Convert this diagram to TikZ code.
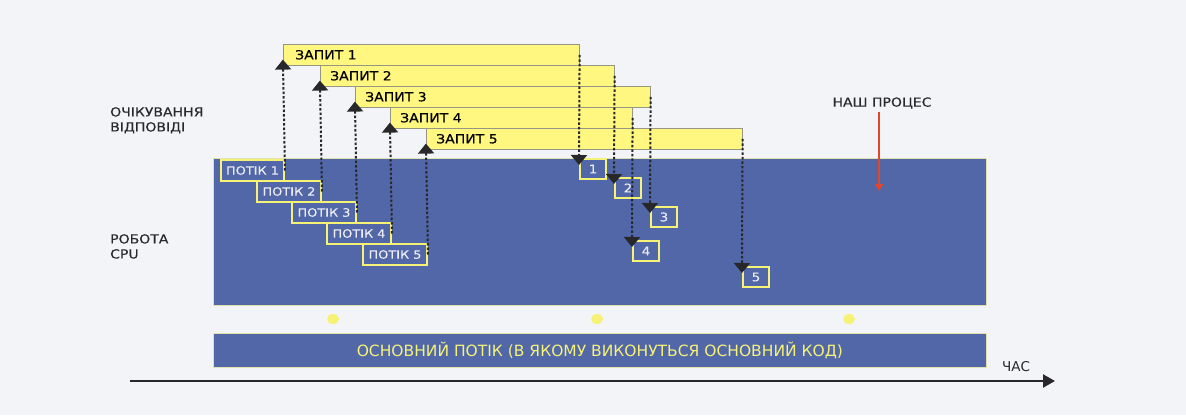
\documentclass[tikz,border=0pt]{standalone}
\usepackage{fontspec}
\setmainfont{DejaVu Sans}[FakeStretch=1.12,FakeBold=0.25]
\newfontfamily\plainfont{DejaVu Sans}
\usetikzlibrary{arrows.meta}
\definecolor{bg}{RGB}{243,244,248}
\definecolor{cpublue}{RGB}{81,103,168}
\definecolor{baryel}{RGB}{255,247,128}
\definecolor{boxyel}{RGB}{246,242,118}
\definecolor{bargray}{RGB}{150,150,130}
\definecolor{dark}{RGB}{40,40,42}
\definecolor{lighttxt}{RGB}{236,236,242}
\definecolor{redarr}{RGB}{226,70,45}
\definecolor{rim}{RGB}{225,225,175}
\tikzset{
  lbl/.style={inner sep=0pt, text=dark, font=\fontsize{12.5}{15}\selectfont},
  bluerect/.style={fill=cpublue, draw=rim, line width=0.8pt, inner sep=0pt, anchor=north west},
  reqbar/.style={fill=baryel, draw=bargray, line width=0.6pt, inner sep=0pt, anchor=north west, minimum height=21pt},
  reqtxt/.style={inner sep=0pt, anchor=west, text=black, font=\fontsize{12.5}{14}\selectfont},
  thrbox/.style={fill=cpublue, draw=boxyel, line width=2pt, inner sep=0pt, anchor=north west, minimum width=63pt, minimum height=21pt, text=lighttxt, font=\fontsize{11.5}{12}\selectfont},
  numbox/.style={fill=cpublue, draw=boxyel, line width=2pt, inner sep=0pt, anchor=north west, minimum width=26pt, minimum height=20pt, text=lighttxt, font=\fontsize{12}{12}\selectfont},
  dotline/.style={draw=dark, line width=2pt, dash pattern=on 2.5pt off 2pt},
  uptip/.style={dotline, -{Triangle[width=16pt,length=10pt]}, shorten >=-6pt},
  dntip/.style={dotline, -{Triangle[width=16pt,length=10pt]}, shorten >=-7pt},
  ydot/.style={fill=boxyel},
}
\begin{document}
\begin{tikzpicture}[x=1pt,y=-1pt]
\fill[bg] (0,0) rectangle (1186,415);
\useasboundingbox (0,0) rectangle (1186,415);

% left labels
\node[lbl, anchor=north west, align=left] (wait) at (110,107) {ОЧІКУВАННЯ\\ВІДПОВІДІ};
\node[lbl, anchor=north west, align=left] (cpu) at (110,234) {РОБОТА\\CPU};

% CPU area
\node[bluerect, minimum width=773pt, minimum height=147pt] (cpuarea) at (213,158) {};

% threads
\node[thrbox] (p1) at (220,159) {ПОТІК 1};
\node[thrbox, minimum width=64pt] (p2) at (256,180) {ПОТІК 2};
\node[thrbox, minimum width=64pt] (p3) at (291,201) {ПОТІК 3};
\node[thrbox, minimum width=64pt] (p4) at (326,222) {ПОТІК 4};
\node[thrbox, minimum width=64pt] (p5) at (362,243) {ПОТІК 5};

% request bars
\node[reqbar, minimum width=296pt] (bar1) at (283,44) {};
\node[reqbar, minimum width=294pt] (bar2) at (320,65) {};
\node[reqbar, minimum width=295pt] (bar3) at (355,86) {};
\node[reqbar, minimum width=242pt] (bar4) at (390,107) {};
\node[reqbar, minimum width=316pt] (bar5) at (426,128) {};
\node[reqtxt] (r1) at ([xshift=12pt]bar1.west) {ЗАПИТ 1};
\node[reqtxt] (r2) at ([xshift=10pt]bar2.west) {ЗАПИТ 2};
\node[reqtxt] (r3) at ([xshift=10pt]bar3.west) {ЗАПИТ 3};
\node[reqtxt] (r4) at ([xshift=10pt]bar4.west) {ЗАПИТ 4};
\node[reqtxt] (r5) at ([xshift=10pt]bar5.west) {ЗАПИТ 5};

% result boxes
\node[numbox] (n1) at (579,158) {1};
\node[numbox] (n2) at (614,177) {2};
\node[numbox] (n3) at (650,206) {3};
\node[numbox] (n4) at (632,240) {4};
\node[numbox] (n5) at (742,266) {5};

% up arrows (thread -> request)
\draw[uptip] (p1.east) -- (bar1.south west);
\draw[uptip] (p2.east) -- (bar2.south west);
\draw[uptip] (p3.east) -- (bar3.south west);
\draw[uptip] (p4.east) -- (bar4.south west);
\draw[uptip] (p5.east) -- (bar5.south west);

% down arrows (request -> result)
\draw[dntip] (bar1.east) -- (n1.north west);
\draw[dntip] (bar2.east) -- (n2.north west);
\draw[dntip] (bar3.east) -- (n3.north west);
\draw[dntip] (bar4.east) -- (n4.north west);
\draw[dntip] (bar5.east) -- (n5.north west);

% our process
\node[lbl] (proc) at (882,103) {НАШ ПРОЦЕС};
\coordinate (procpt) at (879,191);
\draw[redarr, line width=1.4pt, -{Triangle[width=8pt,length=7pt]}] (proc.south -| procpt) ++(0,3) -- (procpt);

% yellow dots
\fill[ydot] (333,319) ellipse (6pt and 5pt);
\fill[ydot] (597,319) ellipse (6pt and 5pt);
\fill[ydot] (849,319) ellipse (6pt and 5pt);

% main thread
\node[bluerect, minimum width=773pt, minimum height=34pt] (main) at (213,333) {};
\node[inner sep=0pt, text=boxyel, font=\plainfont\fontsize{15.5}{16}\selectfont] (maintxt) at (main.center) {ОСНОВНИЙ ПОТІК (В ЯКОМУ ВИКОНУТЬСЯ ОСНОВНИЙ КОД)};

% time axis
\coordinate (ta) at (130,381);
\coordinate (tb) at (1055,381);
\draw[dark, line width=2.2pt, -{Triangle[width=13pt,length=12pt]}] (ta) -- (tb);
\node[lbl, font=\plainfont\fontsize{13.5}{14}\selectfont] (time) at (1016,367) {ЧАС};
\end{tikzpicture}
\end{document}
